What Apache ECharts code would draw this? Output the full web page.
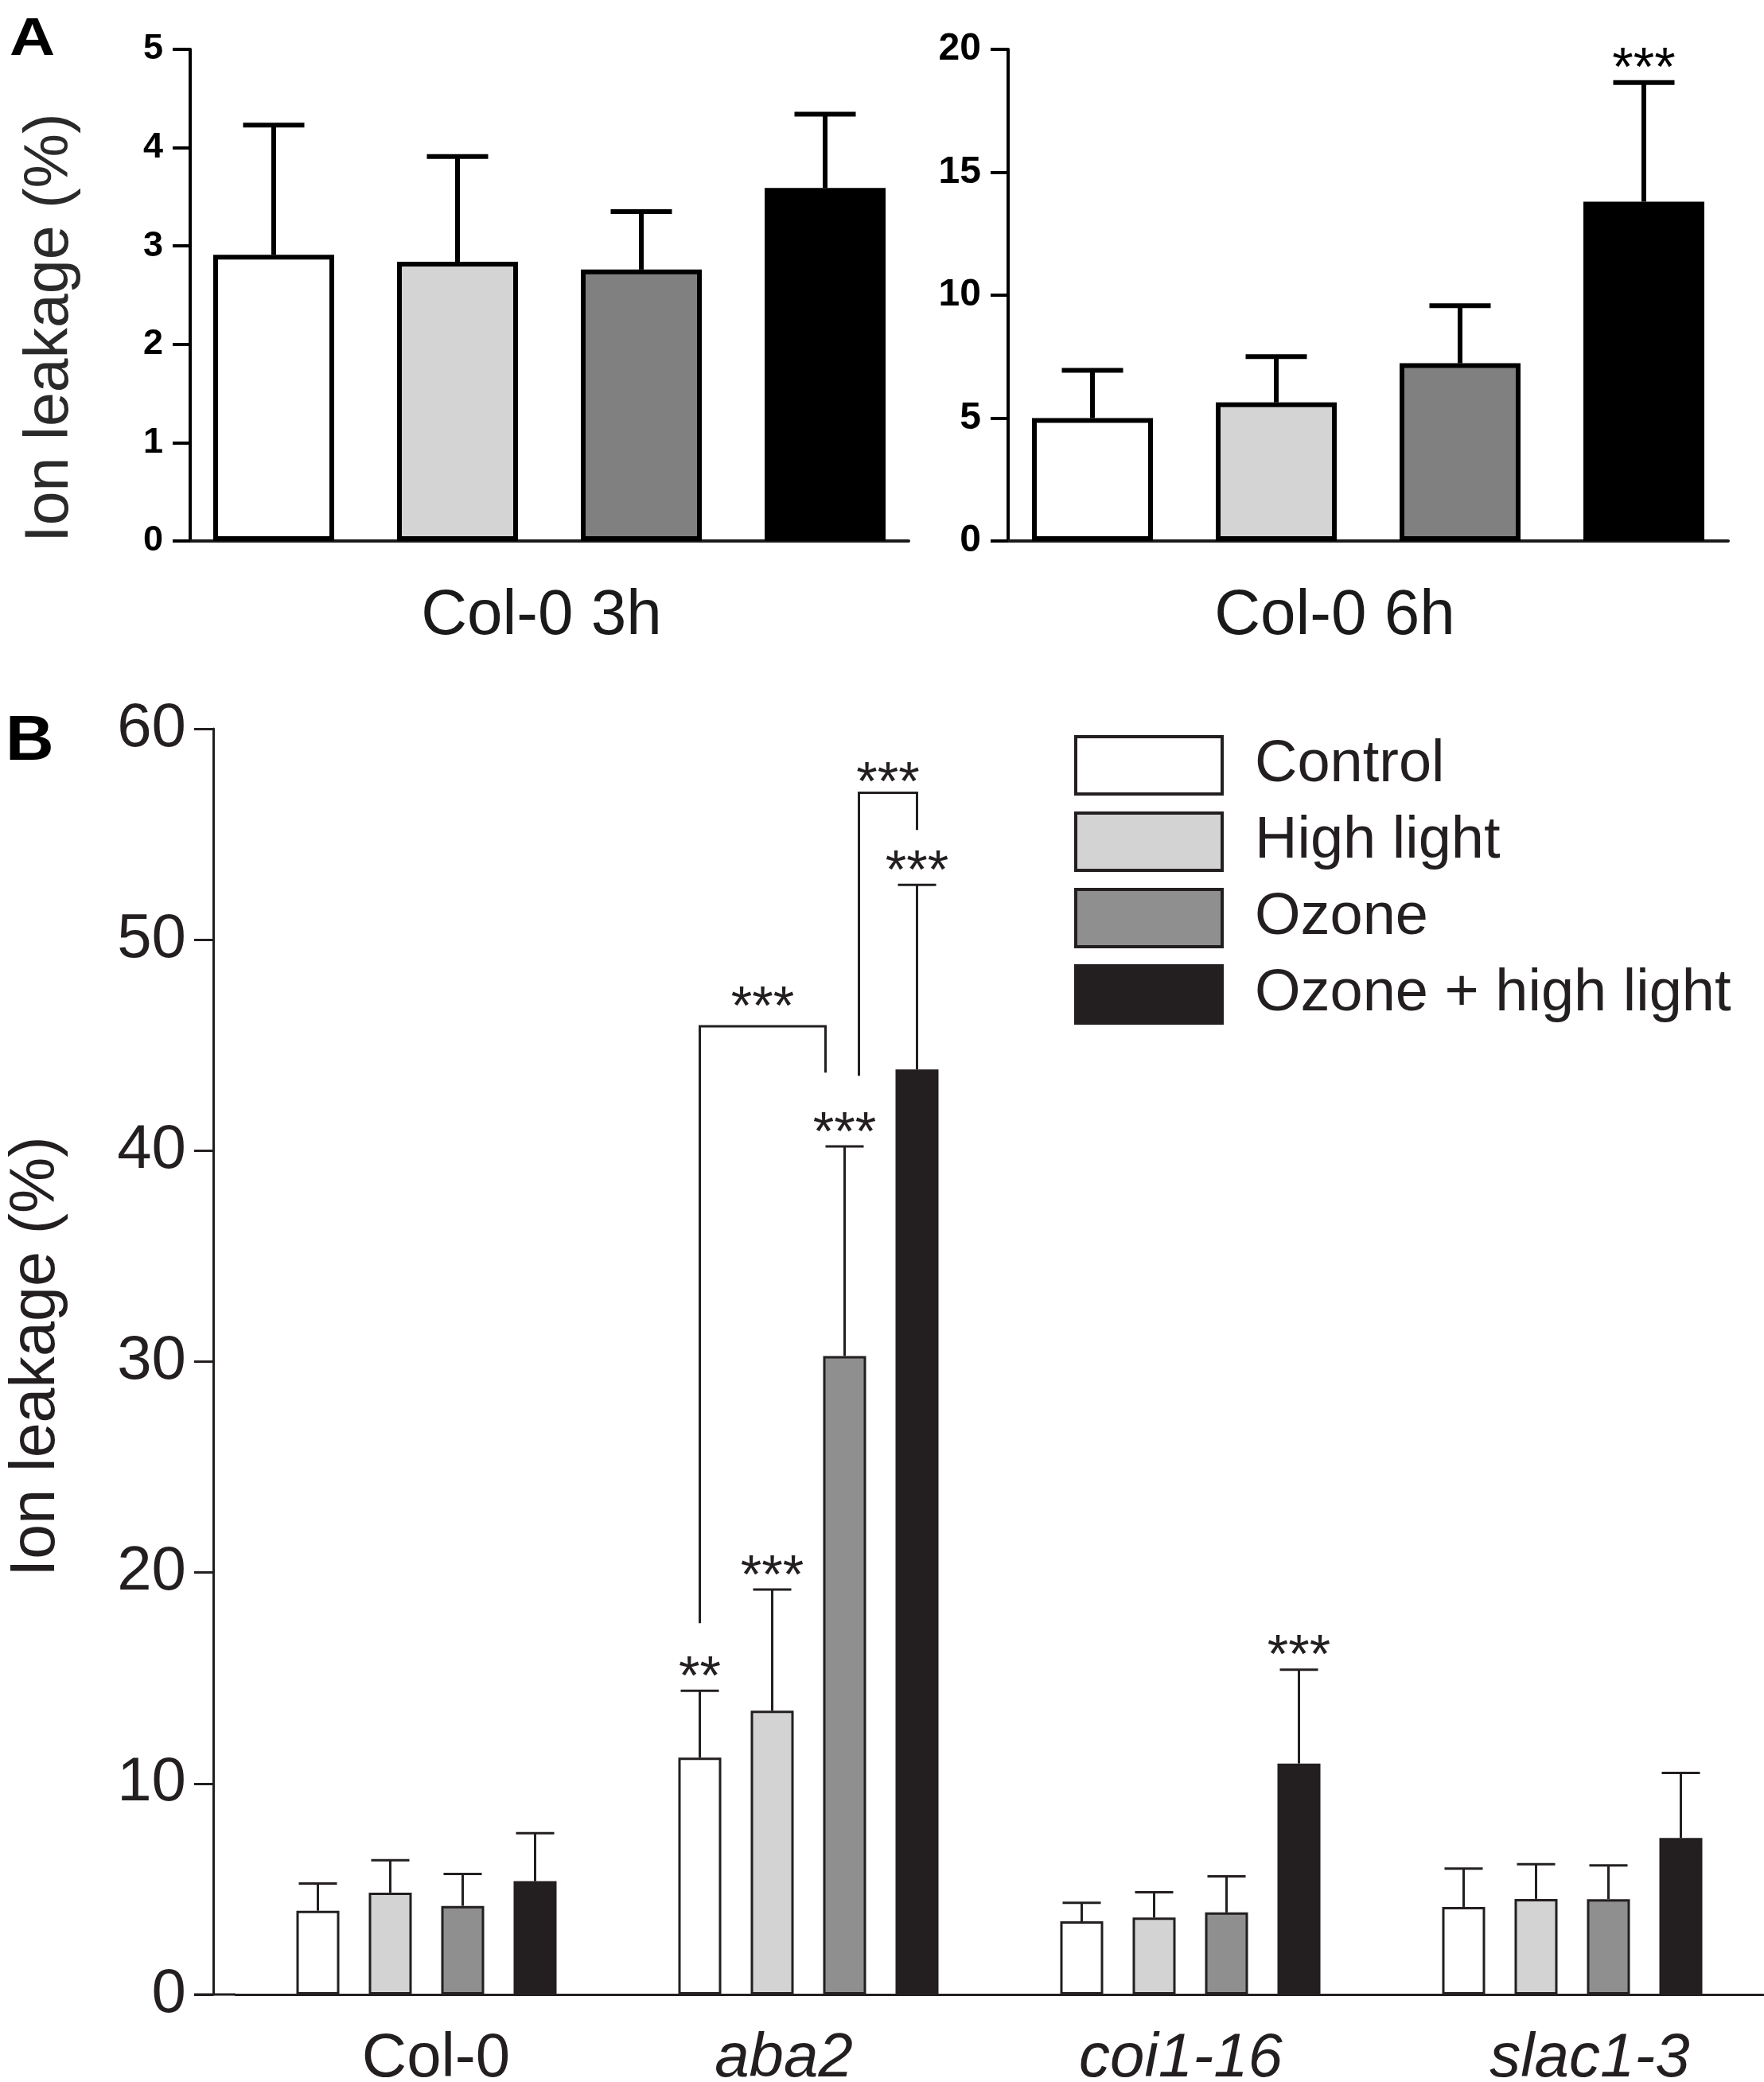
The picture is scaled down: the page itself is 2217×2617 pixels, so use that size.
<!DOCTYPE html>
<html>
<head>
<meta charset="utf-8">
<script src="https://cdn.jsdelivr.net/npm/echarts@6/dist/echarts.min.js"></script>
<style>
  html, body { margin: 0; padding: 0; background: #fff; }
  #chart { width: 2217px; height: 2617px; }
</style>
</head>
<body>
<div id="chart"></div>
<script>
// treatments, in legend order
var treatments = ['Control', 'High light', 'Ozone', 'Ozone + high light'];

// panel A: Col-0 after 3 h and 6 h (mean and SD per treatment)
var catA3 = ['Col-0 3h'];
var catA6 = ['Col-0 6h'];
var meanA3 = [2.91, 2.84, 2.76, 3.59];
var sdA3 = [1.32, 1.07, 0.59, 0.75];
var meanA6 = [5.0, 5.64, 7.23, 13.8];
var sdA6 = [1.94, 1.86, 2.34, 4.85];
var sigA6 = ['', '', '', '***'];
var ticksA3 = [0, 1, 2, 3, 4, 5];
var ticksA6 = [0, 5, 10, 15, 20];

// panel B: genotypes, one row per treatment
var genotypes = ['Col-0', 'aba2', 'coi1-16', 'slac1-3'];
var meanB = [
  [3.97, 11.23, 3.47, 4.15],
  [4.83, 13.45, 3.65, 4.53],
  [4.2, 30.26, 3.89, 4.52],
  [5.37, 43.85, 10.95, 7.42]
];
var sdB = [
  [1.29, 3.17, 0.88, 1.82],
  [1.53, 5.75, 1.2, 1.65],
  [1.51, 9.94, 1.71, 1.6],
  [2.28, 8.75, 4.45, 3.08]
];
var sigB = [
  ['', '**', '', ''],
  ['', '***', '', ''],
  ['', '***', '', ''],
  ['', '***', '***', '']
];
var ticksB = [0, 10, 20, 30, 40, 50, 60];

// comparison brackets in panel B (values in %)
var brackets = [
  { genotype: 'aba2', from: 0, to: 2, fromEnd: 17.6, toEnd: 43.7, top: 45.9, labelAt: 47.3, label: '***' },
  { genotype: 'aba2', from: 2, to: 3, fromEnd: 43.55, toEnd: 55.2, top: 56.96, labelAt: 57.9, label: '***' }
];

var FONT = 'Liberation Sans';
var colorsA = ['#ffffff', '#d4d4d4', '#808080', '#000000'];
var colorsB = ['#ffffff', '#d3d3d3', '#8f8f8f', '#231f20'];

// styles per panel
var stA = { barW: 152, step: 231, bw: 6, border: '#000', lw: 6, cap: 77, sigGap: 15, ink: '#000' };
var stB = { barW: 54, step: 91, bw: 3, border: '#231f20', lw: 3, cap: 48, sigGap: 15, ink: '#231f20' };
// little sideways shifts of the bracket legs so they don't overlap (px)
var bracketNudge = [[0, -24], [18, 0]];
// sideways shift of category labels (px, + = right)
var labelShift = { 'Col-0 3h': -10, 'Col-0 6h': -42, 'Col-0': 12, 'aba2': -31, 'coi1-16': -12, 'slac1-3': 22 };

var gridB = { left: 296, top: 916, width: 1920, height: 1591 };
var yOffB = 28;

function barSeries(name, grid, data, color, st) {
  return {
    type: 'bar', name: name, xAxisIndex: grid, yAxisIndex: grid,
    data: data, barWidth: st.barW,
    barGap: ((st.step - st.barW) / st.barW * 100) + '%',
    itemStyle: { color: color, borderColor: st.border, borderWidth: st.bw },
    z: 2
  };
}

// error bars (upper only) + significance stars
function errSeries(idx, grid, means, sds, sigs, st) {
  return {
    type: 'custom', name: 'err' + grid + '_' + idx,
    xAxisIndex: grid, yAxisIndex: grid, z: 5,
    data: means.map(function (m, i) { return [i, m, m + sds[i]]; }),
    renderItem: function (params, api) {
      var base = api.coord([api.value(0), api.value(1)]);
      var top = api.coord([api.value(0), api.value(2)]);
      var x = base[0] + (idx - 1.5) * st.step;
      var ls = { stroke: st.ink, lineWidth: st.lw };
      var kids = [
        { type: 'line', shape: { x1: x, y1: base[1], x2: x, y2: top[1] }, style: ls },
        { type: 'line', shape: { x1: x - st.cap / 2, y1: top[1], x2: x + st.cap / 2, y2: top[1] }, style: ls }
      ];
      var s = sigs ? sigs[params.dataIndex] : '';
      if (s) {
        kids.push({
          type: 'text', x: x, y: top[1] - st.sigGap,
          style: { text: s, fontSize: 68, fontFamily: FONT, fill: st.ink, align: 'center', verticalAlign: 'middle' }
        });
      }
      return { type: 'group', children: kids };
    }
  };
}

function bracketSeries() {
  return {
    type: 'custom', name: 'brackets', xAxisIndex: 2, yAxisIndex: 2, z: 6,
    data: brackets.map(function (b) {
      return [genotypes.indexOf(b.genotype), b.fromEnd, b.toEnd, b.top, b.labelAt];
    }),
    renderItem: function (params, api) {
      var b = brackets[params.dataIndex];
      var n = bracketNudge[params.dataIndex];
      var c = api.value(0);
      var cx = api.coord([c, 0])[0];
      var x1 = cx + (b.from - 1.5) * stB.step + n[0];
      var x2 = cx + (b.to - 1.5) * stB.step + n[1];
      var y1 = api.coord([c, api.value(1)])[1];
      var y2 = api.coord([c, api.value(2)])[1];
      var yt = api.coord([c, api.value(3)])[1];
      var yl = api.coord([c, api.value(4)])[1];
      return {
        type: 'group',
        children: [
          { type: 'polyline', shape: { points: [[x1, y1], [x1, yt], [x2, yt], [x2, y2]] },
            style: { stroke: '#231f20', lineWidth: 3, fill: 'none' } },
          { type: 'text', x: (x1 + x2) / 2, y: yl + 15,
            style: { text: b.label, fontSize: 68, fontFamily: FONT, fill: '#231f20', align: 'center', verticalAlign: 'middle' } }
        ]
      };
    }
  };
}

function catAxis(grid, data, color, lw, size, margin, italic) {
  var rich = {};
  data.forEach(function (v, i) {
    var s = labelShift[v] || 0;
    rich['c' + i] = {
      fontFamily: FONT, fontSize: size, color: color,
      fontStyle: italic && v !== 'Col-0' ? 'italic' : 'normal',
      padding: s > 0 ? [0, 0, 0, 2 * s] : [0, -2 * s, 0, 0]
    };
  });
  return {
    type: 'category', gridIndex: grid, data: data,
    axisLine: { lineStyle: { color: color, width: lw } },
    axisTick: { show: false },
    axisLabel: {
      interval: 0, hideOverlap: false,
      margin: margin, color: color, fontFamily: FONT, fontSize: size,
      formatter: function (v) { return '{c' + data.indexOf(v) + '|' + v + '}'; },
      rich: rich
    }
  };
}

function valAxis(grid, ticks, color, lw, tickLen, size, weight, offset) {
  return {
    type: 'value', gridIndex: grid,
    min: ticks[0], max: ticks[ticks.length - 1], interval: ticks[1] - ticks[0],
    offset: offset || 0,
    splitLine: { show: false },
    axisLine: { show: true, lineStyle: { color: color, width: lw } },
    axisTick: { show: true, length: tickLen, lineStyle: { color: color, width: lw } },
    axisLabel: { margin: 34, color: color, fontFamily: FONT, fontSize: size, fontWeight: weight }
  };
}

var series = [];
treatments.forEach(function (t, i) {
  series.push(barSeries(t, 2, meanB[i], colorsB[i], stB));
});
treatments.forEach(function (t, i) {
  series.push(barSeries(t, 0, [meanA3[i]], colorsA[i], stA));
  series.push(barSeries(t, 1, [meanA6[i]], colorsA[i], stA));
});
treatments.forEach(function (t, i) {
  series.push(errSeries(i, 0, [meanA3[i]], [sdA3[i]], null, stA));
  series.push(errSeries(i, 1, [meanA6[i]], [sdA6[i]], [sigA6[i]], stA));
  series.push(errSeries(i, 2, meanB[i], sdB[i], sigB[i], stB));
});
series.push(bracketSeries());

var chart = echarts.init(document.getElementById('chart'), null, { renderer: 'canvas' });
chart.setOption({
  animation: false,
  backgroundColor: '#ffffff',
  grid: [
    { left: 239, top: 62, width: 903, height: 618, outerBoundsMode: 'none' },
    { left: 1267, top: 62, width: 905, height: 618, outerBoundsMode: 'none' },
    { left: gridB.left, top: gridB.top, width: gridB.width, height: gridB.height, outerBoundsMode: 'none' }
  ],
  xAxis: [
    catAxis(0, catA3, '#1a1a1a', 4, 80, 55, false),
    catAxis(1, catA6, '#1a1a1a', 4, 80, 55, false),
    catAxis(2, genotypes, '#231f20', 3, 78, 42, true)
  ],
  yAxis: [
    valAxis(0, ticksA3, '#000', 4, 22, 45, 'bold'),
    valAxis(1, ticksA6, '#000', 4, 22, 48, 'bold'),
    valAxis(2, ticksB, '#231f20', 3, 24, 78, 'normal', yOffB)
  ],
  legend: {
    data: treatments, orient: 'vertical', left: 1345, top: 919,
    itemWidth: 184, itemHeight: 72, itemGap: 20, icon: 'rect',
    selectedMode: false,
    itemStyle: { borderWidth: 4, borderColor: '#231f20' },
    textStyle: { fontSize: 74, lineHeight: 72, fontFamily: FONT, color: '#231f20', padding: [0, 0, 0, 36] }
  },
  graphic: [
    { type: 'text', left: 12, top: 18, scaleX: 1.2, style: { text: 'A', fontSize: 66, fontWeight: 'bold', fontFamily: FONT, fill: '#000' } },
    { type: 'text', left: 7, top: 893, scaleX: 1.05, style: { text: 'B', fontSize: 80, fontWeight: 'bold', fontFamily: FONT, fill: '#000' } },
    { type: 'text', x: 64, y: 412, rotation: Math.PI / 2,
      style: { text: 'Ion leakage (%)', fontSize: 77, fontFamily: FONT, fill: '#2a2a2a', align: 'center', verticalAlign: 'middle' } },
    { type: 'text', x: 46, y: 1705, rotation: Math.PI / 2,
      style: { text: 'Ion leakage (%)', fontSize: 79, fontFamily: FONT, fill: '#231f20', align: 'center', verticalAlign: 'middle' } },
    // stretch of the panel B baseline left of the first category band
    { type: 'line', shape: { x1: gridB.left - yOffB - 24, y1: gridB.top + gridB.height, x2: gridB.left, y2: gridB.top + gridB.height },
      style: { stroke: '#231f20', lineWidth: 3 } }
  ],
  series: series
});
</script>
</body>
</html>
